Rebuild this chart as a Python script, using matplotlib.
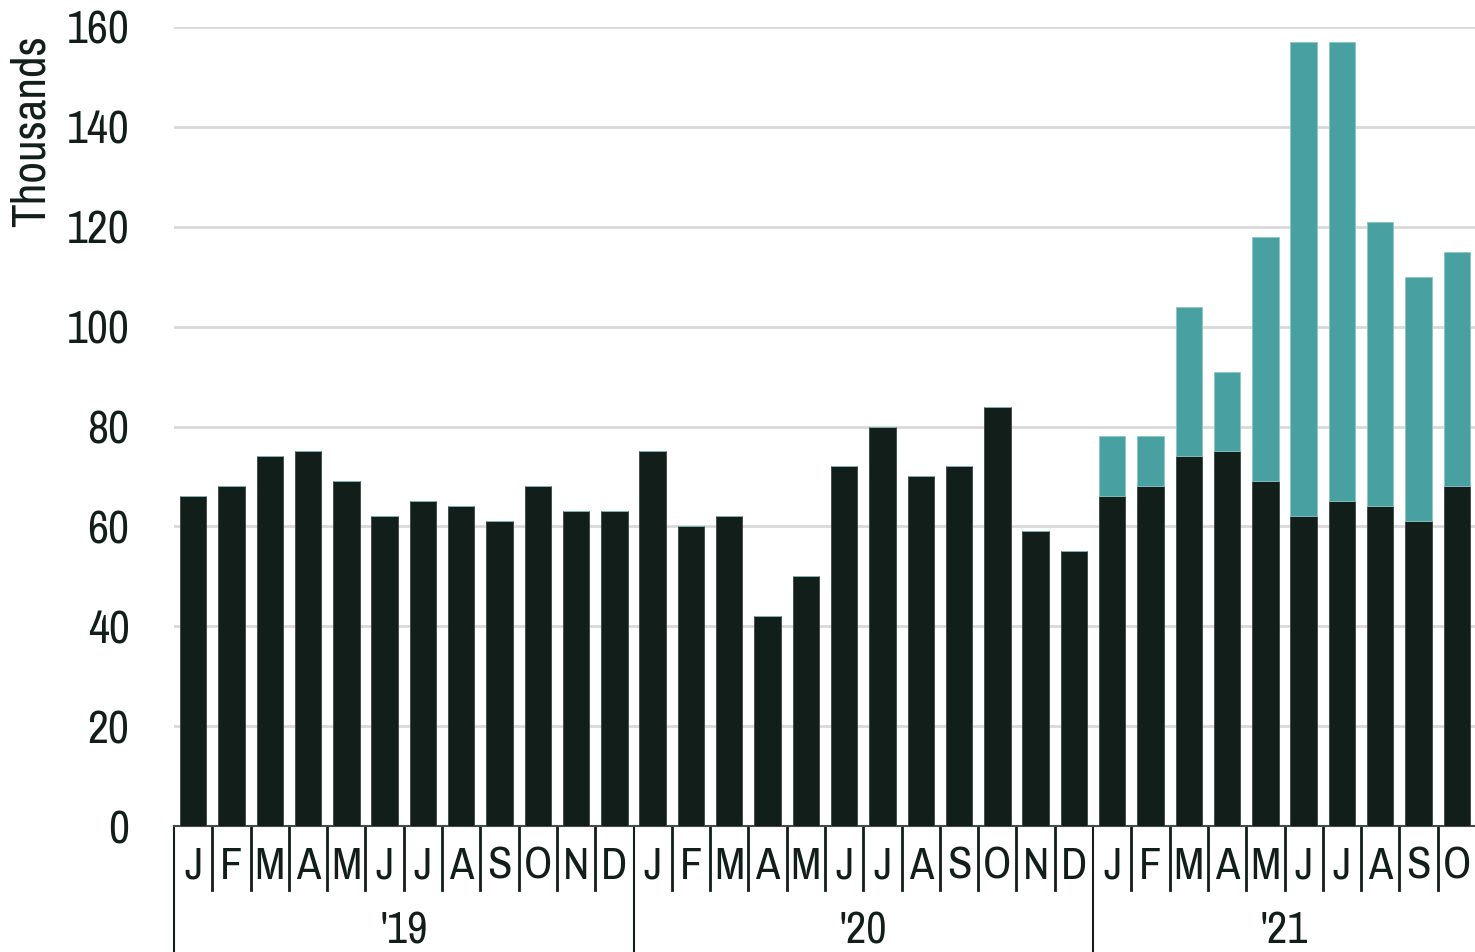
import matplotlib
matplotlib.use("Agg")
import matplotlib.pyplot as plt
import matplotlib.transforms as mtransforms
import numpy as np

plt.rcParams['font.family'] = ['Archivo Narrow', 'DejaVu Sans']

months = ["J", "F", "M", "A", "M", "J", "J", "A", "S", "O", "N", "D"] * 2 + \
         ["J", "F", "M", "A", "M", "J", "J", "A", "S", "O"]
years = ["'19", "'20", "'21"]
year_start = [0, 12, 24]
year_len = [12, 12, 10]

# dark series (base) and total height (base + teal) in thousands
base = [66, 68, 74, 75, 69, 62, 65, 64, 61, 68, 63, 63,
        75, 60, 62, 42, 50, 72, 80, 70, 72, 84, 59, 55,
        66, 68, 74, 75, 69, 62, 65, 64, 61, 68]
total = [None] * 24 + [78, 78, 104, 91, 118, 157, 157, 121, 110, 115]

dark = "#111e19"
teal = "#48a0a0"
txt = "#111e19"

fig = plt.figure(figsize=(14.75, 9.52), dpi=100)
ax = fig.add_axes([174 / 1475, 126 / 952, 1302 / 1475, 799 / 952])

x = np.arange(len(base))
ax.bar(x, base, width=0.69, color=dark, edgecolor="#3a4540", linewidth=0.6, zorder=3)
top = [t - b if t is not None else 0 for t, b in zip(total, base)]
ax.bar(x, top, bottom=base, width=0.69, color=teal, edgecolor="#8cc6c6", linewidth=0.6, zorder=3)

ax.set_xlim(-0.5, len(base) - 0.5)
ax.set_ylim(0, 160)
ax.set_yticks(range(0, 161, 20))
ax.yaxis.grid(True, color="#d9d9d9", linewidth=2, zorder=0)
ax.set_axisbelow(True)
ax.tick_params(axis="y", length=0, pad=32, labelsize=33, labelcolor=txt)
ax.set_xticks([])
for s in ["left", "top", "right"]:
    ax.spines[s].set_visible(False)
ax.spines["bottom"].set_color("#444c48")
ax.spines["bottom"].set_linewidth(1.5)

trans = mtransforms.blended_transform_factory(ax.transData, ax.transAxes)
for i, m in enumerate(months):
    ax.text(i, -0.051, m, transform=trans, ha="center", va="center",
            fontsize=32, color=txt)
for i in range(1, len(months)):
    if i in year_start:
        continue
    ax.plot([i - 0.5, i - 0.5], [0, -0.08], transform=trans, color=txt,
            linewidth=2, clip_on=False)
for y, s, n in zip(years, year_start, year_len):
    ax.plot([s - 0.5, s - 0.5], [0, -0.16], transform=trans, color=txt,
            linewidth=1.5, clip_on=False)
    ax.text(s + (n - 1) / 2, -0.132, y, transform=trans, ha="center", va="center",
            fontsize=32, color=txt)

fig.text(31 / 1475, 1 - 35 / 952, "Thousands", rotation=90, ha="center", va="top",
         fontsize=34, color=txt)

fig.savefig("out.png", dpi=100)
